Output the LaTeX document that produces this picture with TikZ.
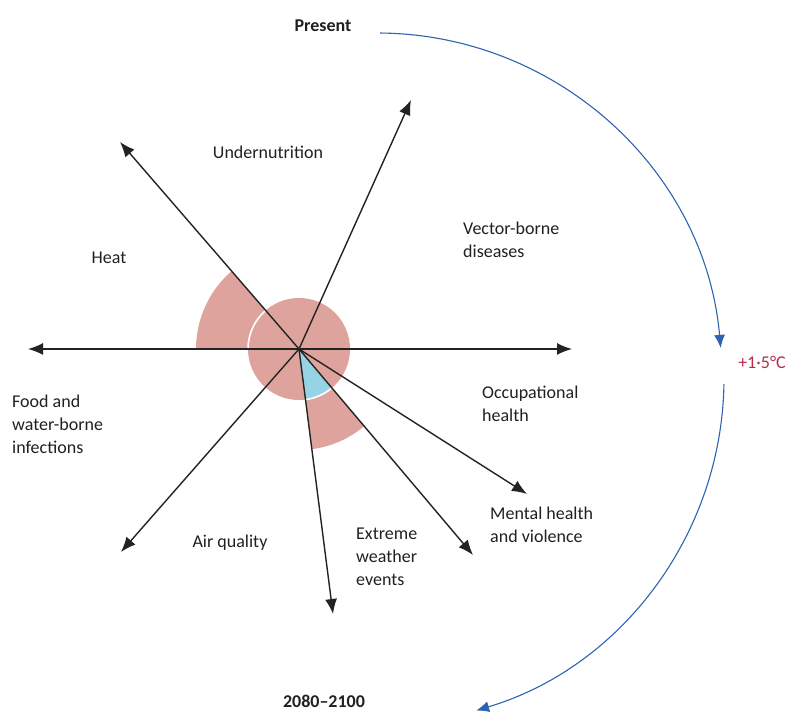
\documentclass[tikz,border=0pt]{standalone}
\usepackage{fontspec}
\setmainfont{Carlito}
\usetikzlibrary{arrows.meta,calc}
\definecolor{pinkf}{RGB}{223,163,158}
\definecolor{bluef}{RGB}{150,212,229}
\definecolor{arcblue}{RGB}{46,99,176}
\definecolor{labred}{RGB}{185,45,70}
\definecolor{txt}{RGB}{35,31,32}
\definecolor{axis}{RGB}{35,35,35}
\tikzset{
  axisarrow/.style={draw=axis,line width=1.4pt,-{Latex[length=15pt,width=12pt]}},
  timearc/.style={draw=arcblue,line width=1.1pt,-{Latex[length=13pt,width=11pt]}},
  lbl/.style={text=txt,font=\fontsize{18}{23}\selectfont,inner sep=0pt},
  lblL/.style={lbl,align=left,anchor=west},
}
\begin{document}
\begin{tikzpicture}[x=1pt,y=1pt]
\useasboundingbox (0,0) rectangle (790,712);
\coordinate (c) at (299,363);
% filled areas
\fill[pinkf] (c) -- ++(130.85:103) arc[start angle=130.85,end angle=180,radius=103] -- cycle;
\fill[pinkf] (c) -- ++(-82.69:101) arc[start angle=-82.69,end angle=-49.81,radius=101] -- cycle;
\fill[pinkf] (c) circle[radius=51];
\fill[bluef] (c) -- ++(-82.69:51) arc[start angle=-82.69,end angle=-49.81,radius=51] -- cycle;
\draw[white,line width=1.6pt] (c) ++(130.85:51) arc[start angle=130.85,end angle=180,radius=51];
\draw[white,line width=1.6pt] (c) ++(-82.69:51) arc[start angle=-82.69,end angle=-49.81,radius=51];
% arrow ends
\coordinate (eL) at (28,363);
\coordinate (eR) at (572,363);
\coordinate (eHeat) at (120,570);
\coordinate (eUR) at (411,612);
\coordinate (eDL) at (121,160);
\coordinate (eD) at (333,98);
\coordinate (eDR1) at (473,157);
\coordinate (eDR2) at (527,218);
\foreach \e in {eL,eR,eHeat,eUR,eDL,eD,eDR1,eDR2} \draw[axisarrow] (c) -- (\e);
% labels
\node[lbl,font=\fontsize{18}{23}\selectfont\bfseries] (present) at (323,686) {Present};
\node[lbl] (under) at (268,560) {Undernutrition};
\node[lbl] (heat) at (109,454) {Heat};
\node[lblL] (vector) at (463,472) {Vector-borne\\diseases};
\node[lblL] (occ) at (482,308) {Occupational\\health};
\node[lblL] (food) at (12,288) {Food and\\water-borne\\infections};
\node[lbl] (air) at (230,169) {Air quality};
\node[lblL] (extreme) at (356,155) {Extreme\\weather\\events};
\node[lblL] (mental) at (490,187) {Mental health\\and violence};
\node[lbl,text=labred] (temp) at (762,350) {+1·5°C};
\node[lbl,font=\fontsize{18}{23}\selectfont\bfseries] (future) at (324,11) {2080–2100};
% time arcs
\coordinate (tc) at (377,334);
\draw[timearc] (tc) ++(89.5:345) arc[start angle=89.5,end angle=5,radius=345];
\draw[timearc] (tc) ++(-1:347) arc[start angle=-1,end angle=-73.4,radius=347];
\end{tikzpicture}
\end{document}
